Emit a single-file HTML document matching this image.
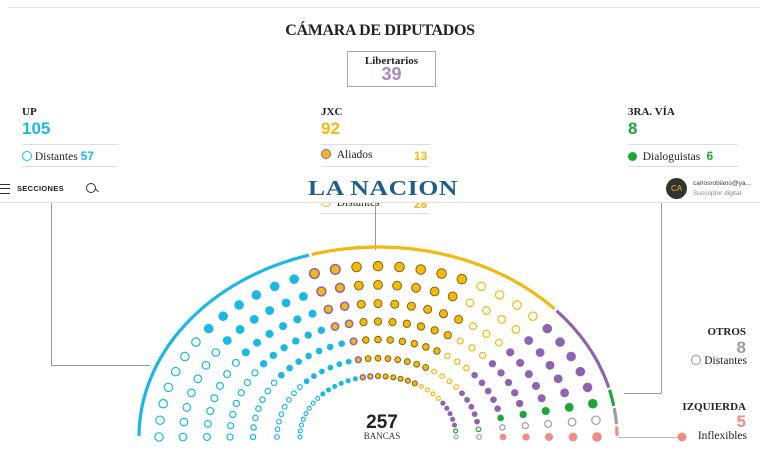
<!DOCTYPE html>
<html><head><meta charset="utf-8"><style>
body{margin:0;width:760px;height:450px;background:#fff;overflow:hidden;position:relative;font-family:"Liberation Serif",serif;color:#222}
.a{position:absolute;white-space:nowrap}
.h{font-weight:bold;font-size:11px}
.n{font-family:"Liberation Sans",sans-serif;font-weight:bold;font-size:17px}
.s{font-size:11.5px}
.ln{position:absolute;background:#ddd;height:1px}
.v{position:absolute;background:#999;width:1px}
.hz{position:absolute;background:#999;height:1px}
</style></head><body>
<div class="ln" style="left:8px;top:7px;width:752px;background:#e4e4e4"></div>
<div class="a" style="left:0;width:760px;text-align:center;top:22px;font-size:16px;font-weight:bold;letter-spacing:-0.3px">CÁMARA DE DIPUTADOS</div>
<div class="a" style="left:347px;top:51px;width:87px;height:34px;border:1px solid #aaa;text-align:center">
<div class="h" style="margin-top:3px">Libertarios</div><div class="n" style="color:#a887c4;margin-top:-3px;font-size:18px">39</div></div>

<div class="a h" style="left:22px;top:106px">UP</div>
<div class="a n" style="left:22px;top:119px;color:#1ab8e6">105</div>
<div class="ln" style="left:22px;top:144px;width:96px"></div>
<div class="a s" style="left:22px;top:149px"><span style="display:inline-block;width:8px;height:8px;border:1.5px solid #1ab8e6;border-radius:50%;vertical-align:-1px"></span> Distantes <b style="font-family:'Liberation Sans';color:#1ab8e6;font-size:12px">57</b></div>
<div class="ln" style="left:22px;top:166px;width:96px"></div>

<div class="a h" style="left:321px;top:106px">JXC</div>
<div class="a n" style="left:321px;top:119px;color:#f2b90f">92</div>
<div class="ln" style="left:321px;top:144px;width:109px"></div>
<div class="a s" style="left:321px;top:149px"><span style="display:inline-block;width:8px;height:8px;background:#f2b90f;border:1.5px solid #8e63b0;border-radius:50%;vertical-align:-1px"></span> &nbsp;Aliados <b style="position:absolute;left:93px;font-family:'Liberation Sans';color:#f2b90f;font-size:12px">13</b></div>
<div class="ln" style="left:321px;top:166px;width:109px"></div>
<div class="a s" style="left:321px;top:197px"><span style="display:inline-block;width:8px;height:8px;border:1.5px solid #f2b90f;border-radius:50%;vertical-align:-1px"></span> &nbsp;Distantes <b style="position:absolute;left:93px;font-family:'Liberation Sans';color:#f2b90f;font-size:12px">28</b></div>
<div class="ln" style="left:321px;top:213px;width:109px"></div>

<div class="a h" style="left:628px;top:106px">3RA. VÍA</div>
<div class="a n" style="left:628px;top:119px;color:#1ba83a">8</div>
<div class="ln" style="left:628px;top:144px;width:110px"></div>
<div class="a s" style="left:628px;top:149px"><span style="display:inline-block;width:9px;height:9px;background:#1ba83a;border-radius:50%;vertical-align:-1px"></span> &nbsp;Dialoguistas <b style="font-family:'Liberation Sans';color:#1ba83a;font-size:12px">&nbsp;6</b></div>
<div class="ln" style="left:628px;top:166px;width:110px"></div>

<div class="a" style="left:0;top:176px;width:760px;height:26px;background:#fff;border-bottom:1px solid #e2e2e2"></div>
<div class="a" style="left:0;top:184px;width:10px;height:8px;border-top:1px solid #333;border-bottom:1px solid #333"></div>
<div class="a" style="left:0;top:188px;width:10px;height:1px;background:#333"></div>
<div class="a" style="left:17px;top:184px;font-family:'Liberation Sans';font-weight:bold;font-size:7.5px;letter-spacing:0.3px">SECCIONES</div>
<div class="a" style="left:86px;top:183px;width:8px;height:8px;border:1.3px solid #333;border-radius:50%"></div>
<div class="a" style="left:95px;top:190px;width:4px;height:1.3px;background:#333;transform:rotate(45deg)"></div>
<div class="a" style="left:0;width:766px;text-align:center;top:176px;font-size:21px;font-weight:bold;color:#1d5e8a;letter-spacing:0.5px;transform:scaleX(1.22);transform-origin:383px 0">LA NACION</div>
<div class="a" style="left:666px;top:178px;width:21px;height:21px;border-radius:50%;background:#333;color:#f2b90f;font-family:'Liberation Sans';font-size:8px;text-align:center;line-height:21px">CA</div>
<div class="a" style="left:693px;top:180px;font-family:'Liberation Sans';font-size:6.5px;color:#444">carlosrobiano@ya...</div>
<div class="a" style="left:693px;top:190px;font-family:'Liberation Sans';font-size:6.5px;color:#888">Suscriptor digital</div>

<div class="v" style="left:51px;top:203px;height:162px"></div>
<div class="hz" style="left:51px;top:365px;width:99px"></div>
<div class="v" style="left:375px;top:203px;height:47px"></div>
<div class="v" style="left:661px;top:203px;height:190px"></div>
<div class="hz" style="left:624px;top:393px;width:37px"></div>
<div class="hz" style="left:618px;top:437px;width:62px;background:#bbb"></div>

<div class="a h" style="right:14px;top:326px;font-size:11px">OTROS</div>
<div class="a n" style="right:14px;top:338px;color:#9e9e9e">8</div>
<div class="a s" style="right:13px;top:355px"><span style="display:inline-block;width:8px;height:8px;border:1px solid #999;border-radius:50%;vertical-align:-1px"></span> Distantes</div>
<div class="a h" style="right:14px;top:401px">IZQUIERDA</div>
<div class="a n" style="right:14px;top:412px;color:#f28b82">5</div>
<div class="a s" style="right:13px;top:430px">Inflexibles</div>

<div class="a" style="left:330px;width:104px;text-align:center;top:412px;font-family:'Liberation Sans';font-weight:bold;font-size:19px">257</div>
<div class="a" style="left:330px;width:104px;text-align:center;top:431px;font-size:9px;color:#333">BANCAS</div>

<svg id="s" width="760" height="450" style="position:absolute;left:0;top:0"></svg>
<script>
var cx=378,cy=437,k=0.78,NS='http://www.w3.org/2000/svg',s=document.getElementById('s');
function el(t,a){var e=document.createElementNS(NS,t);for(var i in a)e.setAttribute(i,a[i]);s.appendChild(e);return e;}
var radii=[78,101,125,148,171,195,219],seats=[];
radii.forEach(function(r,i){var n=33;for(var j=0;j<n;j++){var a=Math.PI*(1-j/(n-1));seats.push({a:a,r:r});}});
seats.sort(function(p,q){return q.a-p.a||p.r-q.r;});
var C='#1ab8e6',G='#f2b90f',P='#8e63b0',V='#1ba83a',Y='#9e9e9e',K='#f28b82';
var groups=[[51,'none',C],[43,C,C],[12,G,P],[46,G,'#7a5a00'],[25,'none',G],[35,P,P],[5,V,V],[2,'none',V],[7,'none',Y],[5,K,K]];
var idx=0;groups.forEach(function(g){for(var i=0;i<g[0];i++){var p=seats[idx++];var d=1.3+p.r*0.016;
el('circle',{cx:cx+p.r*Math.cos(p.a),cy:cy-p.r*k*Math.sin(p.a),r:g[1]=='none'?d-0.6:d,fill:g[1],stroke:g[2],'stroke-width':g[1]=='none'?1.2:(g[2]==g[1]?0:(g[2]==P?1.5:0.9))});}});
var arcs=[[105,C],[92,G],[39,P],[8,V],[8,Y],[5,K]],acc=0,R=239,Ry=190;
arcs.forEach(function(g){var a0=Math.PI*(1-acc/257)-0.006,a1=Math.PI*(1-(acc+g[0])/257)+0.006;acc+=g[0];
var x0=cx+R*Math.cos(a0),y0=cy-Ry*Math.sin(a0),x1=cx+R*Math.cos(a1),y1=cy-Ry*Math.sin(a1);
el('path',{d:'M'+x0+' '+y0+' A'+R+' '+Ry+' 0 0 1 '+x1+' '+y1,fill:'none',stroke:g[1],'stroke-width':3.2});});
el('circle',{cx:682,cy:437,r:4.5,fill:K});
</script>
</body></html>
